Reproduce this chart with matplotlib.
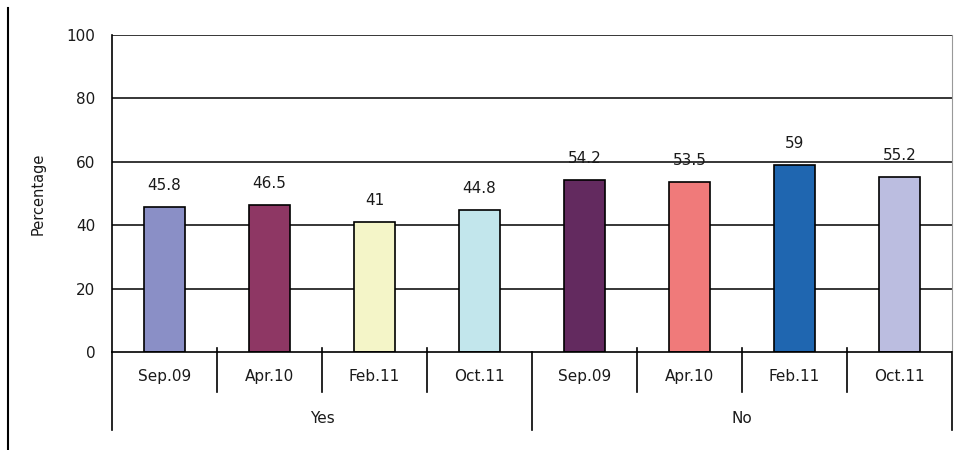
import matplotlib
matplotlib.use("Agg")
import matplotlib.pyplot as plt
from matplotlib.lines import Line2D

# data
groups = ["Yes", "No"]
periods = ["Sep.09", "Apr.10", "Feb.11", "Oct.11"]
yes_values = [45.8, 46.5, 41, 44.8]
no_values = [54.2, 53.5, 59, 55.2]
yes_colors = ["#8A8FC6", "#8E3764", "#F4F5C8", "#C2E6EC"]
no_colors = ["#632A5F", "#F07A7A", "#1F66B0", "#BBBDE0"]
yticks = [0, 20, 40, 60, 80, 100]

plt.rcParams["font.family"] = ["DejaVu Sans"]
txt = "#1a1a1a"

fig = plt.figure(figsize=(9.6, 4.5), dpi=100)
ax = fig.add_axes([112 / 960, 1 - 352 / 450, 840 / 960, 317 / 450])

values = yes_values + no_values
colors = yes_colors + no_colors
labels = periods * len(groups)
xs = [i + 0.5 for i in range(len(values))]

for y in yticks[1:]:
    ax.axhline(y, color="black", lw=1.1, zorder=1)

ax.bar(xs, values, width=0.39, color=colors, edgecolor="black", lw=1.2, zorder=2)
for x, v in zip(xs, values):
    ax.text(x, v + 6.8, f"{v:g}", ha="center", va="center", fontsize=11, color=txt)

ax.set_xlim(0, len(values))
ax.set_ylim(0, 100)
ax.set_yticks(yticks)
ax.set_xticks([])
ax.tick_params(axis="y", length=0, pad=12, labelsize=11, labelcolor=txt)
ax.spines["top"].set_visible(False)
ax.spines["right"].set_color("#999999")
ax.spines["left"].set_linewidth(1.2)
ax.spines["bottom"].set_linewidth(1.2)
ax.set_ylabel("Percentage", fontsize=10.5, color=txt)
ax.yaxis.set_label_coords(-0.079, 0.5)

# category axis: minor separators, group separators and labels
kw = dict(color="black", lw=1.2, clip_on=False)
for i in range(1, len(values)):
    if i % len(periods) == 0:
        continue
    ax.plot([i, i], [1.3, -12.6], **kw)
for g in range(len(groups) + 1):
    ax.plot([g * len(periods)] * 2, [0, -24.6], **kw)
for x, lab in zip(xs, labels):
    ax.text(x, -7.6, lab, ha="center", va="center", fontsize=11, color=txt)
for g, name in enumerate(groups):
    ax.text(g * len(periods) + len(periods) / 2, -21, name, ha="center", va="center",
            fontsize=11, color=txt)

fig.add_artist(Line2D([8 / 960, 8 / 960], [0, 1 - 8 / 450], color="black", lw=1.5))

fig.savefig("out.png", dpi=100)
